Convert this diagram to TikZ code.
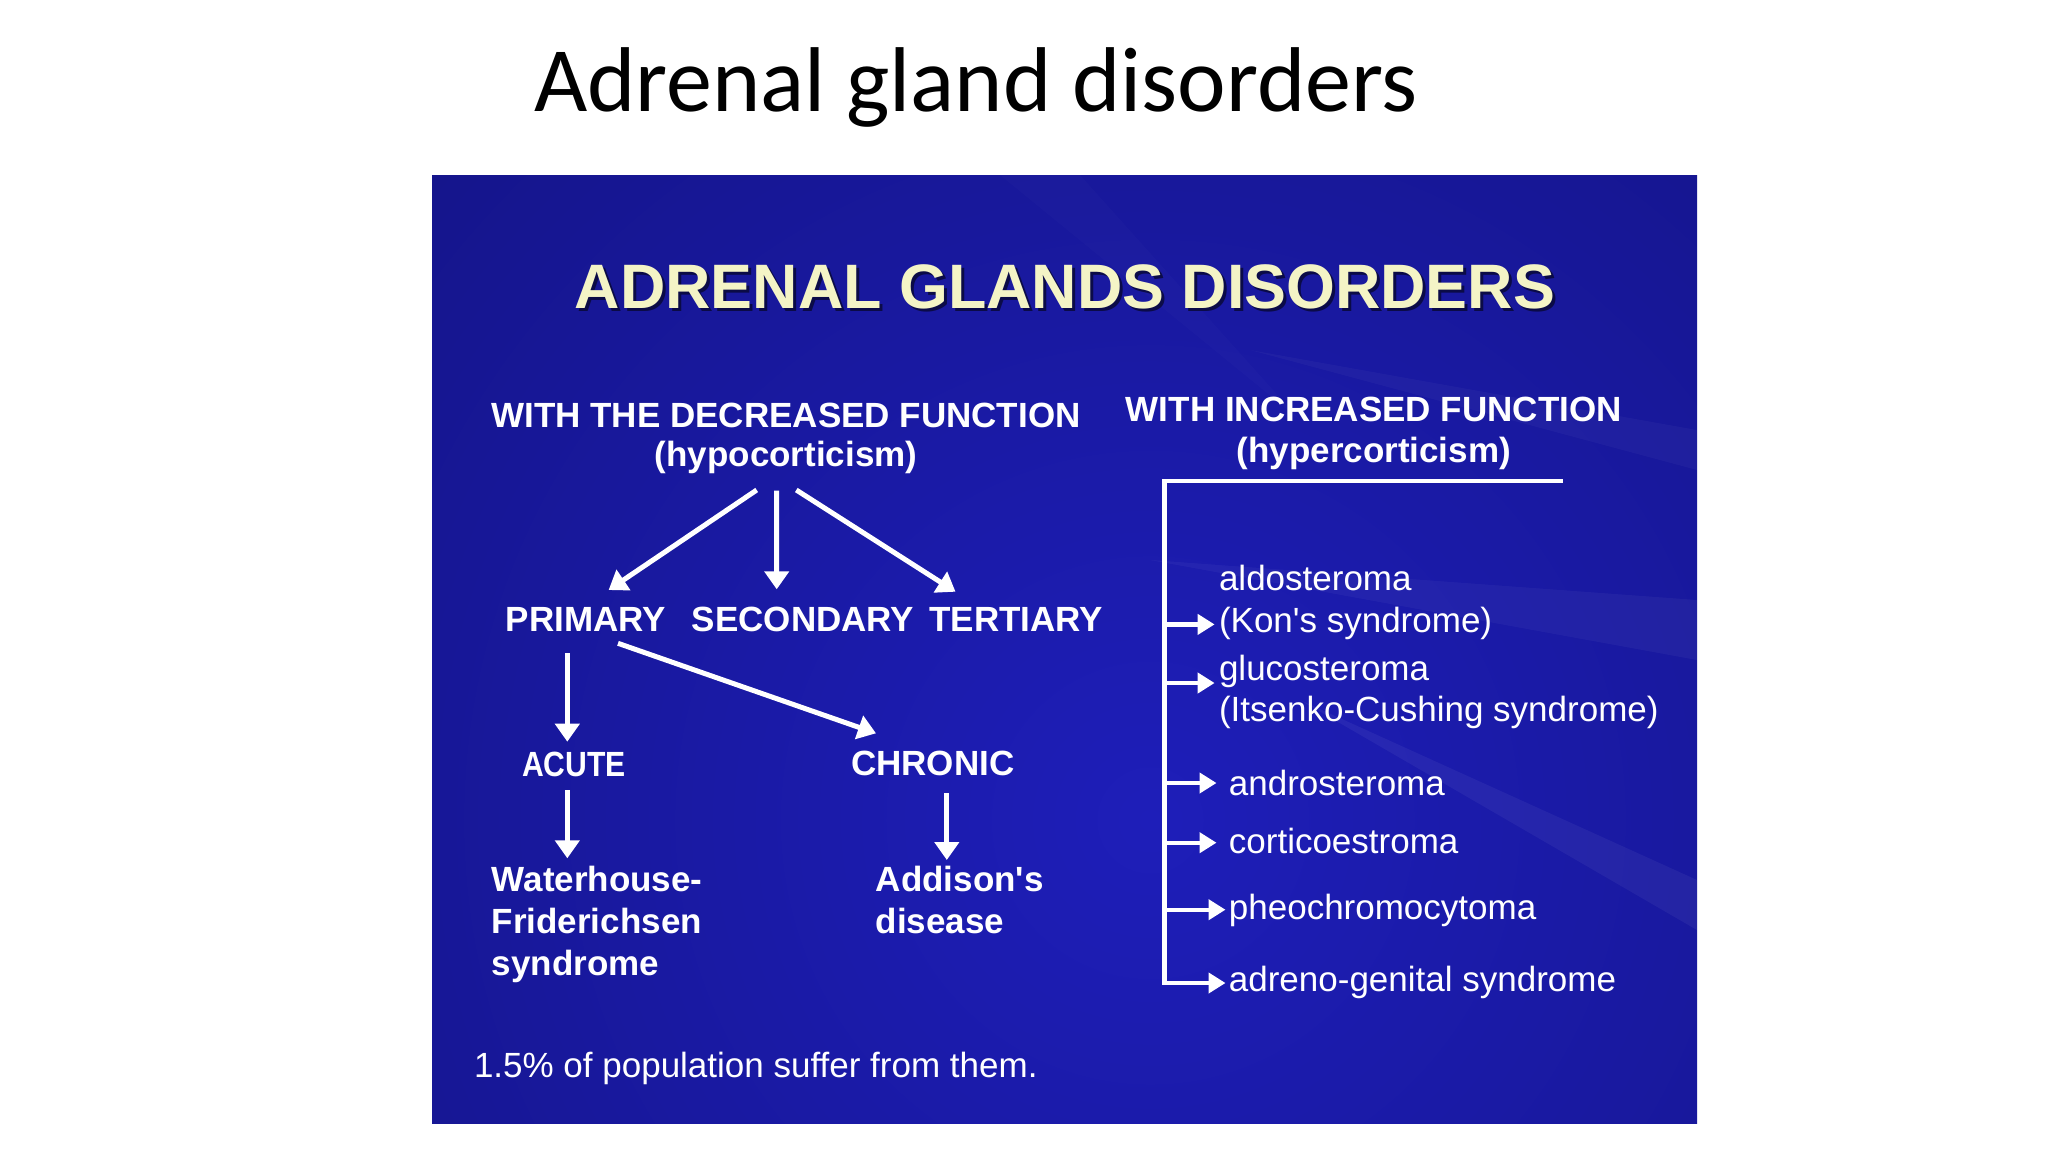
\documentclass[tikz,border=0pt]{standalone}
\usepackage{fontspec}
\setmainfont{Liberation Sans}[Ligatures=TeXOff]
\newfontfamily\titlefont{Carlito}
\usetikzlibrary{arrows.meta,calc}
\definecolor{panelbright}{RGB}{30,30,185}
\definecolor{paneldark}{RGB}{12,12,96}
\definecolor{hdryellow}{RGB}{244,244,198}
\definecolor{hdrshadow}{RGB}{8,8,50}
\tikzset{
  txt/.style={inner sep=0pt, text=white, anchor=base west, font=\fontsize{17.5}{21}\selectfont},
  btxt/.style={txt, font=\fontsize{17.5}{21}\selectfont\bfseries},
  hdrtxt/.style={inner sep=0pt, anchor=base, font=\fontsize{31.4}{36}\selectfont\bfseries},
  arr/.style={draw=white, line width=2.5pt, -{Triangle[width=12pt,length=9pt]}},
  rarr/.style={draw=white, line width=2.1pt, line join=miter, -{Triangle[width=10pt,length=8.5pt]}},
}
\begin{document}
\begin{tikzpicture}[x=0.5pt,y=-0.5pt]
\useasboundingbox (0,0) rectangle (2048,1152);
\fill[white] (0,0) rectangle (2048,1152);

% slide title
\node[anchor=base, inner sep=0pt, text=black, font=\titlefont\fontsize{46}{52}\selectfont] (title) at (976,111) {Adrenal gland disorders};

% blue panel
\fill[paneldark] (432,175) rectangle (1697,1123);
\begin{scope}
  \clip (432,175) rectangle (1697,1123);
  \shade[inner color=panelbright, outer color=paneldark] (1150,820) circle (1900);
  \fill[white, opacity=0.04] (1697,600) -- (1150,560) -- (1697,660) -- cycle;
  \fill[white, opacity=0.05] (1697,880) -- (1300,700) -- (1697,930) -- cycle;
  \fill[white, opacity=0.03] (1697,430) -- (1250,350) -- (1697,470) -- cycle;
  \fill[white, opacity=0.015] (1000,175) -- (1080,175) -- (1300,420) -- cycle;
\end{scope}

% heading with shadow
\node[hdrtxt, text=hdrshadow, opacity=0.8] (hdrsh) at (1068,311) {ADRENAL GLANDS DISORDERS};
\node[hdrtxt, text=hdryellow] (hdr) at (1065,308) {ADRENAL GLANDS DISORDERS};

% left branch
\node[btxt, anchor=base] (dec1) at (786,427) {WITH THE DECREASED FUNCTION};
\node[btxt, anchor=base] (dec2) at (786,466) {(hypocorticism)};
\node[btxt] (prim) at (505.3,631.7) {PRIMARY};
\node[btxt] (sec) at (691.4,631.7) {SECONDARY};
\node[btxt] (ter) at (929,631.7) {TERTIARY};
\node[btxt] (acute) at (521.8,776) {\scalebox{0.86}[1]{ACUTE}};
\node[btxt] (chron) at (850.6,775) {CHRONIC};
\node[btxt] (water1) at (491.4,891) {Waterhouse-};
\node[btxt] (water2) at (491.4,933) {Friderichsen};
\node[btxt] (water3) at (491.4,975) {syndrome};
\node[btxt] (add1) at (875.4,891) {Addison's};
\node[btxt] (add2) at (875.4,933) {disease};
\node[txt] (note) at (473.6,1077.5) {1.5\% of population suffer from them.};

\draw[arr] ($(dec2.base)+(-29.3,24)$) -- ($(prim.base west)+(103.3,-41.7)$);
\draw[arr] ($(dec2.base)+(-9.3,24.7)$) -- ($(sec.base west)+(85.3,-42.4)$);
\draw[arr] ($(dec2.base)+(10.3,24)$) -- ($(ter.base west)+(26.5,-40)$);
\draw[arr] ($(prim.base west)+(112.7,11.6)$) -- ($(chron.base west)+(25.4,-41.7)$);
\draw[arr] ($(prim.base west)+(62,21.6)$) -- ($(acute.base west)+(45.5,-34.3)$);
\draw[arr] ($(acute.base west)+(45.5,14)$) -- ($(water1.base west)+(75.9,-32.7)$);
\draw[arr] ($(chron.base west)+(96.2,18.3)$) -- ($(add1.base west)+(71.4,-31)$);

% right branch
\node[btxt, anchor=base] (inc1) at (1373.8,421.5) {WITH INCREASED FUNCTION};
\node[btxt, anchor=base] (inc2) at (1373.8,462) {(hypercorticism)};
\node[txt] (aldo) at (1218.6,590) {aldosteroma};
\node[txt] (kon) at (1218.6,632) {(Kon's syndrome)};
\node[txt] (gluco) at (1218.6,680) {glucosteroma};
\node[txt] (itsen) at (1218.6,721) {(Itsenko-Cushing syndrome)};
\node[txt] (andro) at (1228.5,795) {androsteroma};
\node[txt] (cortico) at (1228.5,853.7) {corticoestroma};
\node[txt] (pheo) at (1228.5,919.7) {pheochromocytoma};
\node[txt] (adr) at (1228.5,991) {adreno-genital syndrome};

\coordinate (brend) at (1562.6,480.8);
\coordinate (brtop) at (1164.4,480.8);
\coordinate (tkon) at ($(kon.base west)+(-4,-7.6)$);
\coordinate (tgluco) at ($(gluco.base west)+(-4,3)$);
\coordinate (tandro) at ($(andro.base west)+(-12,-12)$);
\coordinate (tcort) at ($(cortico.base west)+(-12,-11)$);
\coordinate (tpheo) at ($(pheo.base west)+(-3,-10)$);
\coordinate (tadr) at ($(adr.base west)+(-3,-8)$);

\draw[rarr] (brend) -- (brtop) |- (tadr);
\draw[rarr] (brtop |- tkon) -- (tkon);
\draw[rarr] (brtop |- tgluco) -- (tgluco);
\draw[rarr] (brtop |- tandro) -- (tandro);
\draw[rarr] (brtop |- tcort) -- (tcort);
\draw[rarr] (brtop |- tpheo) -- (tpheo);
\end{tikzpicture}
\end{document}
